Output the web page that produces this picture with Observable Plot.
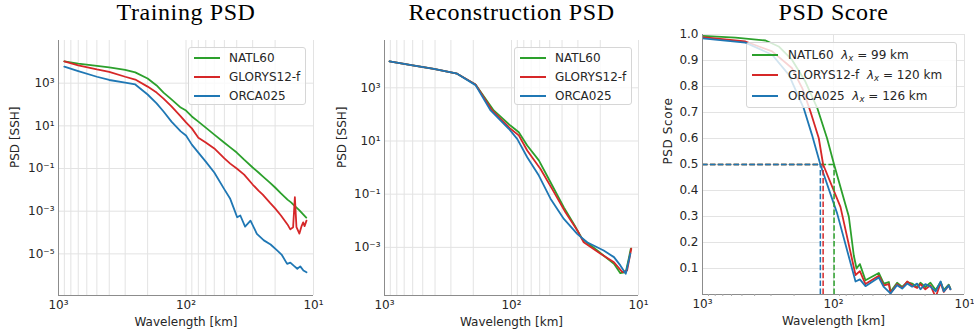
<!DOCTYPE html>
<html><head><meta charset="utf-8">
<script src="https://cdn.jsdelivr.net/npm/d3@7"></script>
<script src="https://cdn.jsdelivr.net/npm/@observablehq/plot@0.6"></script>
<style>
body{margin:0;background:#fff;}
#chart{position:relative;width:974px;height:336px;overflow:hidden;background:#fff;font-family:"DejaVu Sans",sans-serif;}
#chart svg{position:absolute;top:0;overflow:visible;}
.legend{position:absolute;background:rgba(255,255,255,0.8);border:1px solid #d6d6d6;border-radius:3px;box-sizing:border-box;font-size:12px;color:#262626;}
.legend .sw{position:absolute;height:2px;margin-top:-1px;}
.legend .lab{position:absolute;transform:translateY(-50%);white-space:nowrap;line-height:1;}
.legend sub{font-size:8.5px;vertical-align:-2px;line-height:0;}
</style></head><body><div id="chart"></div>
<script>
// ---------- series ----------
const seriesNames = ["NATL60", "GLORYS12-f", "ORCA025"];
const seriesColors = ["#2ca02c", "#d62728", "#1f77b4"];

// Training PSD (wavelength km, PSD)
const trainWlNATL = [900,700,500,400,300,250,200,170,150,130,110,100,90,80,70,60,50,45,40,35,30,27,25,22,20,18,16,15,14,13,12,11.4];
const trainPsdNATL = [1.05e4,8.3e3,6.5e3,5.5e3,4.2e3,3.2e3,1.66e3,780,363,174,72,52,27.5,15.8,8.3,3.9,1.62,0.98,0.56,0.26,0.112,0.065,0.043,0.022,0.0129,6.8e-3,3.5e-3,2.6e-3,1.74e-3,1.15e-3,6.9e-4,5.0e-4];
const trainWlGLORYS = [900,700,500,400,300,250,200,170,150,130,110,100,90,80,70,60,50,45,40,35,30,27,25,22,20,18,16,15.2,14.45,14.0,13.6,12.9,12.4,12.05,11.75,11.35];
const trainPsdGLORYS = [1.05e4,6.8e3,4.4e3,3.4e3,2.0e3,1.48e3,690,363,190,81,28,14.5,7.6,2.8,1.66,0.87,0.30,0.17,0.10,0.052,0.0178,9.3e-3,6.0e-3,2.5e-3,1.35e-3,6.3e-4,2.4e-4,1.41e-4,1.78e-4,4.5e-3,1.78e-4,8.9e-5,2.0e-4,3.0e-4,2.0e-4,3.6e-4];
const trainWlORCA = [900,700,500,400,300,250,200,170,150,130,110,100,90,80,70,60,50,45,42,39.7,37.5,34.4,31.2,27.8,24.5,21.7,19.3,17.8,16.1,15.2,14.3,13.4,12.7,12.0,11.35];
const trainPsdORCA = [6.0e3,3.7e3,2.0e3,1.41e3,1.07e3,870,295,112,47,15.8,5.5,3.5,1.32,0.56,0.21,0.065,0.0105,3.8e-3,1.29e-3,5.2e-4,6.3e-4,1.9e-4,3.6e-4,8.7e-5,4.3e-5,2.75e-5,1.45e-5,9.3e-6,3.4e-6,3.9e-6,2.8e-6,2.0e-6,2.6e-6,1.66e-6,1.38e-6];

// Reconstruction PSD
const recWlNATL = [913,600,409,268,192,138,102,87.6,75.2,60.9,49.3,38.7,31.3,27.8,21.1,15.6,13.9,12.6,11.9,11.5];
const recPsdNATL = [9.8e3,6.9e3,5.1e3,3.4e3,1.32e3,141,38,21.4,6.8,1.86,0.28,0.032,5.8e-3,2.1e-3,7.6e-4,2.4e-4,1.07e-4,1.17e-4,4.0e-4,9.0e-4];
const recWlGLORYS = [913,600,409,268,192,142,102,87.6,75.2,59.1,47.9,37.6,30.4,27.0,19.9,15.6,13.4,12.3,11.4];
const recPsdGLORYS = [9.8e3,6.9e3,5.1e3,3.4e3,1.32e3,141,28.8,16.2,4.4,0.89,0.158,0.021,4.4e-3,1.55e-3,5.8e-4,2.75e-4,1.17e-4,1.35e-4,8.9e-4];
const recWlORCA = [913,600,409,268,192,146,105,90.2,75.2,60.9,49.3,38.7,30.4,25.4,18.8,15.6,13.9,12.6,11.6];
const recPsdORCA = [9.8e3,6.9e3,5.1e3,3.4e3,1.26e3,141,28.8,12.0,2.45,0.50,0.068,0.0117,3.2e-3,1.55e-3,7.6e-4,4.3e-4,2.1e-4,1.02e-4,5.8e-4];

// PSD score
const scoreWlNATL = [1000,560,330,262,207,164,133,112,99,76.4,70,66.7,62.9,57,45.1,41.3,37.8,36.7,32.7,29.9,27.4,25.1,23,21.7,19.9,18.2,16.6,15.2,14.4,13.2,12.8];
const scoreNATL = [0.995,0.988,0.977,0.954,0.902,0.819,0.717,0.601,0.5,0.300,0.150,0.100,0.117,0.055,0.083,0.042,0.048,0.010,0.045,0.029,0.048,0.042,0.029,0.045,0.029,0.045,0.017,0.048,0.017,0.038,0.023];
const scoreWlGLORYS = [1000,470,294,207,173,150,129.5,120,88.5,67.9,62.9,57,45.1,41.3,37.8,36.7,32.7,29.9,27.4,25.1,23,21.7,19.9,18.2,16.6,15.2,14.4,13.2,12.8];
const scoreGLORYS = [0.99,0.973,0.935,0.870,0.793,0.704,0.601,0.5,0.337,0.075,0.09,0.040,0.072,0.035,0.040,0.005,0.040,0.025,0.050,0.035,0.025,0.040,0.020,0.035,-0.010,0.045,0.010,0.035,0.020];
const scoreWlORCA = [1000,470,294,219,169,146,126,93.8,67.9,62.9,57,45.1,41.3,36.7,32.7,29.9,27.4,25.1,23,21.7,19.9,18.2,16.6,15.2,14.4,13.2,12.8];
const scoreORCA = [0.985,0.969,0.922,0.845,0.717,0.614,0.5,0.312,0.05,0.058,0.032,0.065,0.029,0.004,0.036,0.023,0.042,0.03,0.042,0.02,0.04,0.03,0.012,0.05,0.012,0.035,0.02];
const lambdaX = [99, 120, 126];
const scoreThreshold = [0.5];

// ---------- axes / ticks ----------
const titles = ["Training PSD", "Reconstruction PSD", "PSD Score"];
const xLabel = "Wavelength [km]";
const yLabels = ["PSD [SSH]", "PSD [SSH]", "PSD Score"];
const xDomain = [1000, 10];
const xTicks = [1000, 100, 10];
const logGridTicks = [10,20,30,40,50,60,70,80,90,100,200,300,400,500,600,700,800,900,1000];
const minorTicks = [20,30,40,50,60,70,80,90,200,300,400,500,600,700,800,900];
const trainYDomain = [1.12e-7, 1e5];
const trainYTicks = [1e3, 1e1, 1e-1, 1e-3, 1e-5];
const recYDomain = [1.55e-5, 6.0e4];
const recYTicks = [1e3, 1e1, 1e-1, 1e-3];
const scoreYDomain = [0, 1];
const scoreYTicks = [0.1,0.2,0.3,0.4,0.5,0.6,0.7,0.8,0.9,1.0];

const SUP = {"-":"⁻","0":"⁰","1":"¹","2":"²","3":"³","4":"⁴","5":"⁵","6":"⁶","7":"⁷","8":"⁸","9":"⁹"};
const powFmt = d => "10" + String(Math.round(Math.log10(d))).split("").map(c => SUP[c]).join("");
const rows = (xs, ys) => xs.map((x, i) => ({x, y: ys[i]}));

const GRID = "#e3e3e3", SPINE = "#8c8c8c", TEXT = "#262626";
const TITLE_BASELINE = 19;
const chart = document.getElementById("chart");

function panel(cfg) {
  const {left, width, mL, mR, mT, mB, yOpts, yTicks, yFmt, yMin, gridX, lines, extra = [], title, yLabel, yLabelDx, minor} = cfg;
  const marks = [
    Plot.gridX({ticks: gridX, stroke: GRID, strokeOpacity: 1}),
    Plot.gridY({ticks: yTicks, stroke: GRID, strokeOpacity: 1}),
    ...lines.map((ln, i) => Plot.line(ln, {x: "x", y: "y", stroke: seriesColors[i], strokeWidth: 1.8, clip: true})),
    ...extra,
    Plot.ruleX([xDomain[0]], {stroke: SPINE, strokeWidth: 1}),
    Plot.ruleY([yMin], {stroke: SPINE, strokeWidth: 1}),
    Plot.axisX({ticks: xTicks, tickFormat: powFmt, tickSize: 0, tickPadding: 5, label: null, fill: TEXT}),
    Plot.axisY({ticks: yTicks, tickFormat: yFmt, tickSize: 0, tickPadding: 4, label: null, fill: TEXT}),
    Plot.text([xLabel], {frameAnchor: "bottom", dy: 27, lineAnchor: "middle", fill: TEXT, fontSize: 12}),
    Plot.text([yLabel], {frameAnchor: "left", dx: yLabelDx, rotate: -90, lineAnchor: "middle", fill: TEXT, fontSize: 12}),
    Plot.text([title], {frameAnchor: "top", dy: TITLE_BASELINE - mT, lineAnchor: "bottom", fill: "#000", fontSize: 24, fontFamily: "Liberation Serif, serif"})
  ];
  if (minor) marks.push(Plot.axisX({ticks: minorTicks, tickFormat: () => "", tickSize: 2, stroke: "#aaa", label: null}));
  const svg = Plot.plot({
    width, height: 336,
    marginLeft: mL, marginRight: mR, marginTop: mT, marginBottom: mB,
    x: {type: "log", domain: xDomain},
    y: yOpts,
    style: {background: "transparent", overflow: "visible", fontFamily: "DejaVu Sans, sans-serif", fontSize: "12px", color: TEXT},
    marks
  });
  svg.style.left = left + "px";
  d3.select(svg).selectAll("text").filter(function () { return this.textContent === title; }).attr("letter-spacing", "0.6px");
  chart.appendChild(svg);
}

function legend(box, labels) {
  const div = document.createElement("div");
  div.className = "legend";
  Object.assign(div.style, {left: box.left + "px", top: box.top + "px", width: box.w + "px", height: box.h + "px"});
  labels.forEach((lab, i) => {
    const cy = box.row0 + i * box.step;
    const sw = document.createElement("div");
    sw.className = "sw";
    Object.assign(sw.style, {left: "4.5px", width: "26px", top: cy + "px", background: seriesColors[i]});
    const t = document.createElement("div");
    t.className = "lab";
    Object.assign(t.style, {left: box.tx + "px", top: cy + "px"});
    t.innerHTML = lab;
    div.appendChild(sw); div.appendChild(t);
  });
  chart.appendChild(div);
}

// Panel 1: Training PSD
panel({
  left: 0, width: 325, mL: 58, mR: 12, mT: 40, mB: 41,
  yOpts: {type: "log", domain: trainYDomain}, yTicks: trainYTicks, yFmt: powFmt, yMin: trainYDomain[0],
  gridX: logGridTicks, title: titles[0], yLabel: yLabels[0], yLabelDx: -43,
  lines: [rows(trainWlNATL, trainPsdNATL), rows(trainWlGLORYS, trainPsdGLORYS), rows(trainWlORCA, trainPsdORCA)]
});
// Panel 2: Reconstruction PSD
panel({
  left: 325, width: 324, mL: 59, mR: 11, mT: 40, mB: 41,
  yOpts: {type: "log", domain: recYDomain}, yTicks: recYTicks, yFmt: powFmt, yMin: recYDomain[0],
  gridX: logGridTicks, title: titles[1], yLabel: yLabels[1], yLabelDx: -42,
  lines: [rows(recWlNATL, recPsdNATL), rows(recWlGLORYS, recPsdGLORYS), rows(recWlORCA, recPsdORCA)]
});
// Panel 3: PSD score
const dash = {strokeDasharray: "5.5,2.4", strokeWidth: 1.5};
const dashMarks = [];
lambdaX.forEach((lam, i) => {
  dashMarks.push(Plot.ruleY(scoreThreshold, {x1: xDomain[0], x2: lam, stroke: seriesColors[i], ...dash}));
  dashMarks.push(Plot.ruleX([lam], {y1: scoreYDomain[0], y2: scoreThreshold[0], stroke: seriesColors[i], ...dash}));
});
panel({
  left: 649, width: 325, mL: 53, mR: 10, mT: 34, mB: 42,
  yOpts: {type: "linear", domain: scoreYDomain}, yTicks: scoreYTicks, yFmt: d3.format(".1f"), yMin: scoreYDomain[0],
  gridX: xTicks, title: titles[2], yLabel: yLabels[2], yLabelDx: -34, minor: true,
  lines: [rows(scoreWlNATL, scoreNATL), rows(scoreWlGLORYS, scoreGLORYS), rows(scoreWlORCA, scoreORCA)],
  extra: dashMarks
});

// Legends
legend({left: 188, top: 47, w: 118, h: 58, row0: 10, step: 19.2, tx: 40}, seriesNames);
legend({left: 514, top: 47, w: 118, h: 58, row0: 10, step: 19.2, tx: 40}, seriesNames);
legend({left: 746, top: 42, w: 211, h: 66, row0: 11.5, step: 20.8, tx: 41},
  seriesNames.map((n, i) => `${n}&nbsp;&nbsp;<i>λ</i><sub><i>x</i></sub> = ${lambdaX[i]} km`));
</script>
</body></html>
